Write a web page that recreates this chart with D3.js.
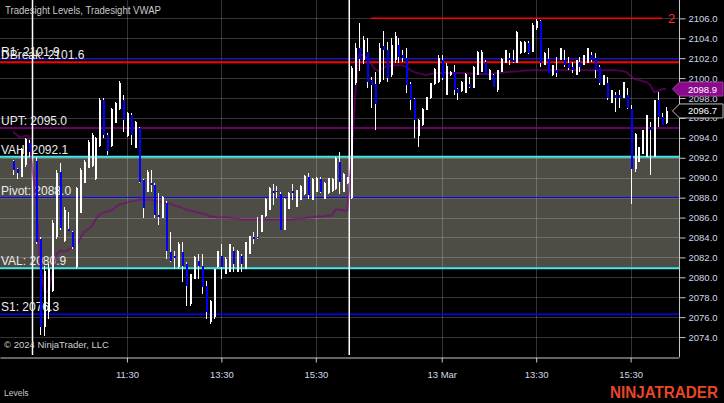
<!DOCTYPE html>
<html><head><meta charset="utf-8">
<script src="https://cdn.jsdelivr.net/npm/d3@7/dist/d3.min.js"></script>
<style>html,body{margin:0;padding:0;background:#000;}svg{display:block;}</style>
</head><body>
<svg id="chart" width="724" height="403"></svg>
<script>
// ---------- DATA ----------
const priorCount = 5, session1Count = 80, session2Count = 81;
const open = [
2091.7,2090.9,2090.1,2091.3,2093.5,
2091.7,2083.8,2075.0,2076.5,2078.6,2084.0,2090.6,2083.6,2084.9,2084.5,
2081.0,2086.5,2089.5,2091.0,2091.2,2089.9,2093.2,2097.8,2094.3,2093.2,
2095.5,2096.9,2097.8,2094.2,2096.3,2093.0,2095.0,2089.8,2088.6,2089.5,
2089.3,2086.3,2086.0,2087.5,2082.5,2082.1,2081.0,2082.5,2081.3,2077.3,
2079.8,2081.6,2081.1,2079.1,2075.5,2076.0,2081.0,2082.1,2080.3,2080.5,
2082.6,2080.5,2082.1,2080.8,2082.3,2084.0,2084.0,2084.5,2086.2,2086.8,
2088.7,2088.7,2088.4,2084.8,2086.9,2088.7,2087.1,2087.8,2088.4,2090.1,
2087.8,2088.6,2089.9,2087.9,2088.5,2088.7,2088.9,2091.6,2088.6,2089.5,
2088.0,2099.5,2103.0,2101.8,2102.6,2099.8,2099.4,2099.6,2103.2,2102.8,
2100.3,2101.8,2103.3,2102.3,2102.0,2099.4,2097.9,2094.2,2095.3,2096.8,
2098.0,2099.4,2099.6,2101.8,2098.3,2100.3,2100.6,2098.9,2098.7,2098.5,
2099.4,2099.0,2100.3,2100.6,2101.6,2099.8,2100.3,2098.8,2100.6,2101.5,
2102.0,2101.8,2101.5,2102.5,2102.6,2103.5,2102.6,2105.0,2105.7,2101.3,
2101.9,2100.3,2100.8,2101.8,2101.8,2101.5,2101.1,2100.3,2101.6,2101.3,
2101.5,2102.3,2102.0,2101.1,2099.3,2099.5,2097.5,2098.3,2098.3,2098.0,
2098.3,2096.9,2090.9,2091.6,2092.4,2092.1,2095.1,2092.1,2097.8,2096.1,
2095.5];
const high = [
2091.8,2091.0,2093.0,2094.0,2093.8,
2092.1,2084.0,2081.1,2081.3,2085.8,2090.8,2091.5,2087.1,2086.6,2084.6,
2089.1,2091.0,2091.8,2093.8,2094.5,2094.1,2098.0,2098.0,2094.5,2097.0,
2097.6,2099.7,2098.3,2096.6,2096.5,2095.7,2095.1,2089.9,2090.8,2090.8,
2089.5,2088.5,2088.2,2087.7,2084.5,2082.6,2083.5,2083.5,2081.5,2080.3,
2082.1,2082.3,2082.3,2079.6,2077.7,2080.8,2082.6,2083.3,2082.0,2083.3,
2083.0,2082.7,2082.3,2083.5,2084.1,2084.5,2086.1,2086.3,2088.0,2089.1,
2089.4,2089.2,2088.6,2088.0,2088.6,2089.4,2088.8,2089.3,2090.3,2090.5,
2090.0,2090.1,2090.1,2089.6,2090.0,2090.0,2092.1,2092.6,2090.5,2090.1,
2101.2,2103.5,2105.5,2104.2,2104.0,2100.1,2100.6,2103.5,2104.7,2103.6,
2104.0,2104.6,2104.0,2102.8,2103.0,2099.6,2098.0,2095.9,2097.0,2098.1,
2099.5,2101.0,2102.3,2102.3,2101.5,2100.7,2101.3,2099.0,2099.7,2100.5,
2100.1,2101.2,2102.7,2102.8,2101.8,2100.9,2100.4,2100.8,2102.0,2102.8,
2102.5,2102.8,2104.7,2103.7,2103.7,2103.7,2105.5,2105.9,2105.8,2102.6,
2103.0,2101.3,2102.1,2103.0,2102.8,2102.1,2101.6,2101.8,2102.1,2102.3,
2103.0,2102.6,2102.5,2101.3,2100.3,2100.1,2098.8,2098.6,2098.8,2099.6,
2099.0,2097.3,2094.5,2093.1,2094.8,2096.3,2095.6,2097.8,2098.6,2096.5,
2097.1];
const low = [
2090.3,2089.9,2090.1,2091.1,2092.1,
2083.3,2074.2,2074.1,2075.8,2078.5,2083.8,2084.8,2083.5,2084.6,2082.8,
2080.8,2086.5,2089.5,2091.0,2091.1,2089.8,2093.1,2094.0,2092.3,2093.1,
2095.5,2096.8,2094.6,2094.1,2093.3,2093.0,2089.5,2086.0,2088.6,2088.6,
2086.0,2085.3,2086.0,2081.8,2081.5,2080.8,2080.8,2079.5,2077.1,2077.1,
2079.8,2079.8,2078.3,2075.8,2075.3,2075.8,2080.9,2079.8,2080.3,2080.5,
2080.5,2080.5,2080.5,2080.8,2082.3,2083.3,2083.8,2084.5,2086.1,2086.8,
2087.3,2088.0,2084.7,2084.7,2086.9,2087.8,2087.1,2087.8,2088.3,2087.9,
2087.8,2088.6,2088.5,2087.9,2088.4,2088.6,2088.8,2088.4,2088.6,2089.4,
2087.9,2099.3,2100.7,2101.4,2099.0,2097.0,2094.8,2099.4,2099.8,2099.6,
2100.1,2101.5,2101.5,2101.6,2098.5,2096.8,2094.0,2093.1,2095.2,2096.8,
2097.9,2099.3,2099.5,2099.8,2098.3,2100.2,2098.3,2097.8,2098.6,2098.5,
2099.0,2099.0,2100.3,2100.6,2100.3,2099.8,2099.1,2098.6,2100.6,2101.5,
2101.3,2101.5,2101.5,2102.4,2102.5,2102.4,2102.6,2104.8,2101.1,2101.3,
2100.5,2100.2,2100.1,2101.8,2101.1,2100.8,2100.5,2100.3,2100.6,2101.3,
2101.5,2101.6,2100.0,2099.3,2099.3,2097.8,2097.5,2096.6,2097.0,2098.0,
2096.9,2087.4,2090.6,2091.6,2092.4,2092.1,2090.3,2092.1,2095.1,2095.3,
2095.4];
const close = [
2090.8,2090.5,2092.9,2093.9,2092.6,
2083.5,2075.0,2080.6,2080.8,2085.5,2090.5,2085.0,2086.8,2084.6,2083.0,
2089.0,2090.8,2091.6,2093.6,2094.3,2094.0,2097.8,2094.3,2092.7,2096.9,
2097.5,2099.5,2095.8,2096.5,2094.3,2095.6,2089.6,2087.0,2090.6,2089.3,
2086.3,2086.1,2088.1,2082.6,2081.6,2081.9,2083.3,2081.1,2079.1,2080.3,
2082.0,2081.1,2079.0,2076.5,2077.6,2080.8,2082.6,2081.0,2081.8,2083.3,
2081.3,2082.6,2081.3,2083.5,2084.1,2083.8,2083.9,2086.3,2087.9,2089.0,
2088.5,2088.6,2084.8,2087.9,2088.5,2088.5,2088.8,2089.2,2090.2,2088.3,
2089.9,2090.0,2088.6,2089.5,2090.0,2089.9,2092.0,2089.6,2090.4,2090.1,
2101.0,2103.0,2101.9,2103.8,2099.6,2099.3,2097.4,2103.0,2102.8,2100.0,
2103.3,2104.2,2102.1,2102.0,2099.3,2097.8,2095.8,2095.8,2096.9,2098.1,
2099.5,2100.9,2102.0,2100.0,2101.2,2100.6,2098.8,2098.5,2099.6,2100.4,
2099.1,2101.1,2102.6,2102.6,2100.3,2100.8,2099.1,2100.8,2101.9,2102.8,
2101.8,2101.6,2104.6,2103.6,2103.6,2102.5,2105.3,2105.7,2101.5,2102.5,
2100.5,2101.3,2100.5,2103.0,2101.3,2101.0,2100.8,2101.8,2101.1,2102.3,
2103.0,2101.8,2100.8,2099.5,2100.3,2098.0,2098.8,2098.0,2098.0,2099.6,
2097.0,2090.9,2094.4,2093.1,2094.8,2096.3,2094.8,2097.8,2096.1,2095.3,
2096.7];
const vwap = [
2094.6,2094.3,2094.0,2094.2,2094.2,
2087.5,2081.1,2078.6,2078.5,2080.4,2082.2,2082.7,2082.6,2082.7,2083.0,
2083.1,2083.8,2084.5,2084.8,2085.1,2085.8,2086.3,2086.5,2086.6,2086.7,
2087.0,2087.3,2087.4,2087.5,2087.6,2087.7,2087.8,2087.8,2087.8,2087.8,
2087.7,2087.6,2087.5,2087.4,2087.4,2087.2,2087.1,2087.0,2086.8,2086.7,
2086.6,2086.5,2086.4,2086.3,2086.1,2086.1,2086.0,2086.0,2086.0,2086.0,
2085.9,2085.9,2085.8,2085.8,2085.8,2085.8,2085.8,2085.8,2085.8,2085.8,
2085.8,2085.8,2085.8,2085.8,2085.8,2085.8,2085.9,2085.9,2085.9,2086.0,
2086.0,2086.1,2086.1,2086.1,2086.2,2086.2,2086.8,2086.8,2086.7,2086.7,
2091.5,2098.3,2102.4,2102.3,2102.0,2101.5,2100.9,2100.7,2101.0,2101.2,
2101.2,2101.3,2101.3,2101.3,2101.1,2100.8,2100.6,2100.5,2100.4,2100.3,
2100.4,2100.45,2100.5,2100.5,2100.5,2100.5,2100.5,2100.5,2100.5,2100.5,
2100.45,2100.45,2100.4,2100.4,2100.4,2100.4,2100.45,2100.5,2100.5,2100.55,
2100.6,2100.65,2100.65,2100.7,2100.75,2100.75,2100.8,2100.8,2100.8,2100.8,
2100.8,2100.8,2100.8,2100.8,2100.8,2100.8,2100.8,2100.8,2100.8,2100.8,
2100.8,2100.8,2100.8,2100.8,2100.8,2100.8,2100.8,2100.8,2100.75,2100.7,
2100.6,2100.2,2099.9,2099.8,2099.7,2099.6,2099.3,2098.6,2098.7,2098.9,
2098.9];

const levelNames  = ["R1","DBreak","UPT","VAH","Pivot","VAL","S1"];
const levelValues = [2101.9, 2101.6, 2095.0, 2092.1, 2088.0, 2080.9, 2076.3];
const targetValue = 2106.0, targetLabel = "2", targetFromBar = 86, targetToBar = 160;
const sessionBreakBars = [0, 80.5];
const priceTicks = [2074,2076,2078,2080,2082,2084,2086,2088,2090,2092,2094,2096,2098,2100,2102,2104,2106];
const timeTickBars = [24, 48, 72, 104, 128, 152];
const timeTickLabels = ["11:30","13:30","15:30","13 Mar","13:30","15:30"];
const vwapLast = 2098.9, closeLast = 2096.7;

// ---------- STYLE ----------
const levelStyle = {
  R1:{color:"#0000ff",w:1}, DBreak:{color:"#ff0000",w:2}, UPT:{color:"#8b008b",w:1.5},
  VAH:{color:"#40e8e8",w:2}, Pivot:{color:"#0000ff",w:1}, VAL:{color:"#40e8e8",w:2}, S1:{color:"#0000ff",w:1.5}
};
const FONT = "'Liberation Sans', Arial, sans-serif";
const W = 724, H = 403, plotR = 679, plotB = 357;

const svg = d3.select("#chart");
svg.append("rect").attr("width",W).attr("height",H).attr("fill","#000");

const x = d3.scaleLinear().domain([-8.26, 164.3]).range([0, plotR]);
const y = d3.scaleLinear().domain([2072.0, 2107.84]).range([plotB, 0]);

const barPos = i => i < priorCount ? i - priorCount : i - priorCount + 1;
const bars = open.map((o,i)=>({b:barPos(i), o, h:high[i], l:low[i], c:close[i], v:vwap[i]}));

// value area shading
const vah = levelValues[levelNames.indexOf("VAH")], val = levelValues[levelNames.indexOf("VAL")];
svg.append("rect").attr("x",0).attr("width",plotR).attr("y",y(vah)).attr("height",y(val)-y(vah))
  .attr("fill","#4d4c45");

// gridlines
const grid = svg.append("g").attr("stroke","rgba(255,255,255,0.2)").attr("stroke-width",1).attr("shape-rendering","crispEdges");
priceTicks.forEach(p=>grid.append("line").attr("x1",0).attr("x2",plotR).attr("y1",Math.round(y(p))+0.5).attr("y2",Math.round(y(p))+0.5));
timeTickBars.forEach(b=>grid.append("line").attr("x1",Math.round(x(b))+0.5).attr("x2",Math.round(x(b))+0.5).attr("y1",0).attr("y2",plotB));

// level lines
levelNames.forEach((n,i)=>{
  const s = levelStyle[n];
  svg.append("line").attr("x1",0).attr("x2",plotR).attr("y1",y(levelValues[i])).attr("y2",y(levelValues[i]))
    .attr("stroke",s.color).attr("stroke-width",s.w);
});
svg.append("line").attr("x1",x(targetFromBar)).attr("x2",x(targetToBar)).attr("y1",y(targetValue)).attr("y2",y(targetValue))
  .attr("stroke","#ff0000").attr("stroke-width",1.5);
svg.append("text").attr("x",x(targetToBar)+6).attr("y",y(targetValue)+5).text(targetLabel)
  .attr("fill","#ff2a2a").attr("font-family",FONT).attr("font-size",13);

// session breaks
sessionBreakBars.forEach(b=>svg.append("line").attr("x1",x(b)).attr("x2",x(b)).attr("y1",0).attr("y2",plotB-2)
  .attr("stroke","#ffffff").attr("stroke-width",1.5));

// level labels
levelNames.forEach((n,i)=>{
  svg.append("text").attr("x",1).attr("y",y(levelValues[i])-3).text(n+": "+levelValues[i].toFixed(1))
    .attr("fill","#ececec").attr("font-family",FONT).attr("font-size",12);
});

// VWAP
svg.append("path").datum(bars).attr("fill","none").attr("stroke","#800080").attr("stroke-opacity",0.6)
  .attr("stroke-width",2).attr("d", d3.line().x(d=>x(d.b)).y(d=>y(d.v)));

// candles
const cg = svg.append("g").attr("shape-rendering","crispEdges");
bars.forEach(d=>{
  const cx = Math.round(x(d.b));
  cg.append("line").attr("x1",cx+0.5).attr("x2",cx+0.5).attr("y1",y(d.h)).attr("y2",y(d.l)).attr("stroke","#fff").attr("stroke-width",1);
  const top = y(Math.max(d.o,d.c)), bot = y(Math.min(d.o,d.c));
  cg.append("rect").attr("x",cx-0.5).attr("width",2).attr("y",top).attr("height",Math.max(1,bot-top))
    .attr("fill", d.c >= d.o ? "#ffffff" : "#0000ff");
});

// axes
const yAxis = d3.axisRight(y).tickValues(priceTicks).tickFormat(d3.format(".1f")).tickSize(6).tickSizeOuter(0).tickPadding(3);
const ga = svg.append("g").attr("transform",`translate(${plotR+0.5},0)`).call(yAxis);
const xAxis = d3.axisBottom(x).tickValues(timeTickBars).tickFormat((d,i)=>timeTickLabels[i]).tickSize(5).tickSizeOuter(0).tickPadding(9);
const gb = svg.append("g").attr("transform",`translate(0,${plotB+0.5})`).call(xAxis);
[ga,gb].forEach(g=>{
  g.select(".domain").attr("stroke","#c8c8c8");
  g.selectAll(".tick line").attr("stroke","#c8c8c8");
  g.selectAll(".tick text").attr("fill","#d0d8e8").attr("font-family",FONT).attr("font-size",9.5);
});
ga.select(".domain").attr("d",`M0,0V${plotB}`);

// price markers
function marker(v, fill, stroke, txt){
  const cy = y(v);
  svg.append("path").attr("d",`M${plotR-6.5},${cy}L${plotR+0.5},${cy-7}L${W-1},${cy-7}L${W-1},${cy+7}L${plotR+0.5},${cy+7}Z`)
    .attr("fill",fill).attr("stroke",stroke).attr("stroke-width",1);
  svg.append("text").attr("x",plotR+9).attr("y",cy+3.5).text(txt).attr("fill","#ffffff")
    .attr("font-family",FONT).attr("font-size",9.5);
}
marker(vwapLast, "#8b0a8b", "#a040a0", vwapLast.toFixed(1));
marker(closeLast, "#000000", "#c0c0c0", closeLast.toFixed(1));

// texts
svg.append("text").attr("x",5).attr("y",13.5).text("Tradesight Levels, Tradesight VWAP")
  .attr("fill","#c8c8c8").attr("font-family",FONT).attr("font-size",10.5).attr("textLength",156).attr("lengthAdjust","spacingAndGlyphs");
svg.append("text").attr("x",4).attr("y",347.5).text("© 2024 NinjaTrader, LLC")
  .attr("fill","#d0d0d0").attr("font-family",FONT).attr("font-size",9.5);
svg.append("text").attr("x",4).attr("y",396).text("Levels")
  .attr("fill","#c8c8c8").attr("font-family",FONT).attr("font-size",8.5);
svg.append("text").attr("x",610).attr("y",398).text("NINJATRADER")
  .attr("fill","#e8472a").attr("font-family",FONT).attr("font-weight","bold").attr("font-size",16)
  .attr("textLength",108).attr("lengthAdjust","spacingAndGlyphs");
</script>
</body></html>
